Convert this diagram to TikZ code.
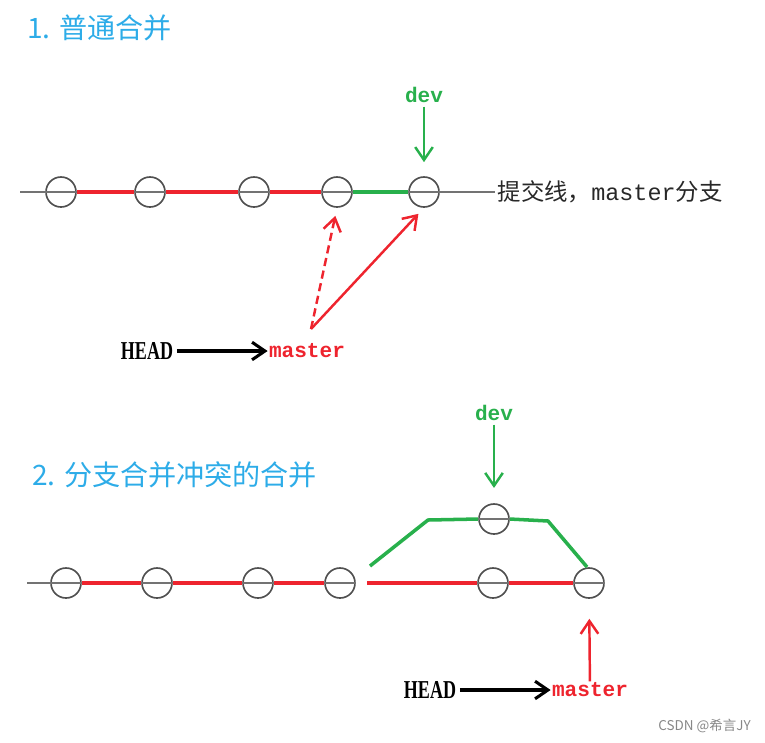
\documentclass[tikz,border=0pt]{standalone}
\usepackage{fontspec}
\setmainfont{Liberation Serif}
\newfontfamily\cjk{Noto Sans CJK SC}
\newfontfamily\monofont{Liberation Mono}
\newfontfamily\headfont[FakeStretch=0.7]{Liberation Serif}
\usetikzlibrary{arrows.meta}
\definecolor{titleblue}{RGB}{45,172,232}
\definecolor{gitred}{RGB}{238,36,46}
\definecolor{gitgreen}{RGB}{40,176,76}
\definecolor{linegray}{RGB}{115,115,115}
\definecolor{ringgray}{RGB}{80,80,80}
\definecolor{textgray}{RGB}{40,40,40}
\definecolor{wmgray}{RGB}{135,135,135}
\begin{document}
\begin{tikzpicture}[
            x=0.03cm, y=-0.03cm,
            commit/.style={circle, draw=ringgray, line width=1.4pt, minimum size=0.9cm, inner sep=0pt},
            trunk/.style={linegray, line width=1.8pt},
            redline/.style={gitred, line width=3pt},
            greenline/.style={gitgreen, line width=3pt},
            ptr/.style={-{Straight Barb[length=11pt, width=15pt]}, line width=2.1pt},
            title/.style={anchor=west, inner sep=0pt, titleblue, font=\cjk\fontsize{24}{28}\selectfont},
            head/.style={inner sep=3pt, font=\headfont\bfseries\fontsize{22}{26}\selectfont},
            ref/.style={inner sep=1pt, font=\monofont\bfseries\fontsize{18}{22}\selectfont}
        ]
        \useasboundingbox (0,0) rectangle (765,742);

        % 1. 普通合并
        \node[title] (t1) at (27,28) {1. 普通合并};
        \foreach \n/\x in {1/61, 2/150, 3/254, 4/337, 5/424} {
                \node[commit] (a\n) at (\x, 192) {};
            }
        \coordinate (s1) at (20, 192);
        \node[anchor=west, inner sep=2pt, textgray, font=\cjk\fontsize{20}{24}\selectfont] (lbl) at (495, 192) {提交线，{\monofont master}分支};
        \draw[trunk] (s1) -- (lbl.west);
        \foreach \a/\b in {1/2, 2/3, 3/4} {
                \draw[redline] (a\a.east) -- (a\b.west);
            }
        \draw[greenline] (a4.east) -- (a5.west);

        % dev指针
        \node[ref, inner sep=3pt, gitgreen] (d1) at (424, 95) {dev};
        \draw[ptr, gitgreen, shorten >=12pt] (d1) -- (a5);

        % HEAD -> master
        \node[head] (h1) at (147, 351) {HEAD};
        \node[ref, gitred] (m1) at (307, 351) {master};
        \draw[ptr, line width=2.6pt] (h1) -- (m1);
        \coordinate (fork) at (311, 329);
        \draw[ptr, gitred, dash pattern=on 7pt off 4pt, shorten >=7pt] (fork) -- (a4.south);
        \draw[ptr, gitred, shorten >=7pt] (fork) -- (a5.south);

        % 2. 分支合并冲突的合并
        \node[title] (t2) at (32, 475) {2. 分支合并冲突的合并};
        \foreach \n/\x in {1/66, 2/157, 3/258, 4/340, 5/493, 6/589} {
                \node[commit] (b\n) at (\x, 583) {};
            }
        \node[commit] (u) at (494, 519) {};
        \coordinate (s2) at (27, 583);
        \draw[trunk] (s2) -- (b4.east);
        \foreach \n in {b5, b6, u} {
                \draw[trunk] (\n.west) -- (\n.east);
            }
        \foreach \a/\b in {1/2, 2/3, 3/4, 5/6} {
                \draw[redline] (b\a.east) -- (b\b.west);
            }
        \coordinate (r2) at (367, 583);
        \draw[redline] (r2) -- (b5.west);

        % dev分支
        \coordinate (g0) at (370, 566);
        \coordinate (g1) at (428, 520);
        \coordinate (g2) at (548, 521);
        \coordinate (g3) at (587, 567);
        \draw[greenline] (g0) -- (g1) -- (u.west);
        \draw[greenline] (u.east) -- (g2) -- (g3);
        \node[ref, inner sep=3pt, gitgreen] (d2) at (494, 413) {dev};
        \draw[ptr, gitgreen, shorten >=13pt] (d2) -- (u);

        % HEAD -> master
        \node[head] (h2) at (430, 690) {HEAD};
        \node[ref, gitred] (m2) at (590, 690) {master};
        \draw[ptr, line width=2.6pt] (h2) -- (m2);
        \draw[ptr, gitred, shorten >=17pt] (m2) -- (b6);

        % 水印
        \node[anchor=east, inner sep=0pt, wmgray, font=\cjk\fontsize{11.5}{14}\selectfont] (wm) at (751, 726) {CSDN @希言JY};
    \end{tikzpicture}
\end{document}
